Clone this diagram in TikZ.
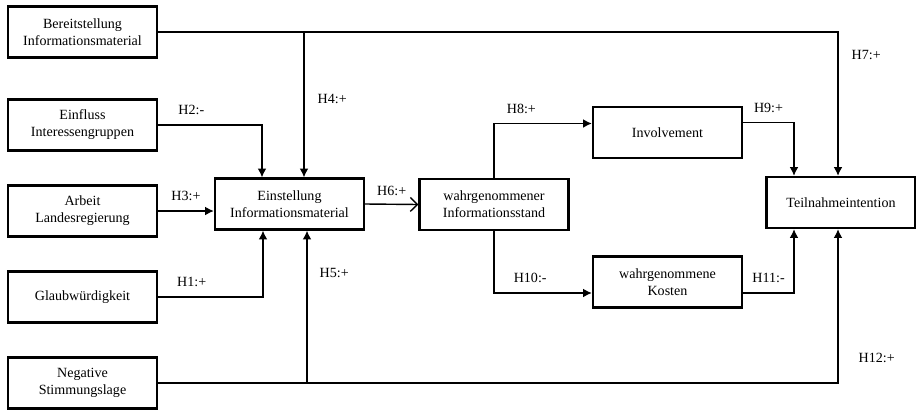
\documentclass[tikz,border=0pt]{standalone}
\usepackage{fontspec}
\setmainfont{Liberation Serif}
\usepackage{tikz}
\usetikzlibrary{arrows.meta}
\tikzstyle{block} = [rectangle, draw, line width=1.3pt, align=center, minimum width=2.98cm, minimum height=1.02cm, inner sep=1pt, font=\fontsize{8}{9.7}\selectfont]
\tikzstyle{line} = [draw, -{Latex[length=5pt,width=5pt]}, line width=0.8pt]
\tikzstyle{hyp} = [font=\fontsize{8}{9.7}\selectfont, inner sep=2pt]

\begin{document}
\begin{tikzpicture}[node distance=1.72cm]
    \useasboundingbox (0,0) rectangle (18.32,-8.22);
    % Nodes
    \node [block] at (1.65,-2.50) (einfluss) {Einfluss\\Interessengruppen};
    \node [block, above of=einfluss, node distance=1.86cm] (bereit) {Bereitstellung\\Informationsmaterial};
    \node [block, below of=einfluss] (arbeit) {Arbeit\\Landesregierung};
    \node [block, below of=arbeit] (glaub) {Glaubwürdigkeit};
    \node [block, below of=glaub] (negativ) {Negative\\Stimmungslage};
    \node [block] at (5.79,-4.08) (einstellung) {Einstellung\\Informationsmaterial};
    \node [block] at (9.88,-4.09) (wahrg) {wahrgenommener\\Informationsstand};
    \node [block] at (13.35,-2.65) (involvement) {Involvement};
    \node [block] at (13.35,-5.64) (kosten) {wahrgenommene\\Kosten};
    \node [block] at (16.82,-4.05) (teilnahme) {Teilnahmeintention};

    % arrows
    \draw [line] (bereit.east) -| node[hyp, pos=0.58, right, xshift=0.19cm] {H7:+} ([xshift=-0.06cm]teilnahme.north);
    \draw [line] ([xshift=0.29cm]einstellung.north |- bereit.east) -- node[hyp, pos=0.46, right, xshift=0.19cm] {H4:+} ([xshift=0.29cm]einstellung.north);
    \draw [line] (einfluss.east) -| node[hyp, pos=0.16, above, yshift=0.12cm] {H2:-} ([xshift=-0.55cm]einstellung.north);
    \draw [line] (arbeit.east) -- node[hyp, above, yshift=0.12cm] {H3:+} (arbeit.east -| einstellung.west);
    \draw [line] (glaub.east) -| node[hyp, pos=0.16, above, yshift=0.12cm] {H1:+} ([xshift=-0.53cm]einstellung.south);
    \draw [line] (negativ.east) -| node[hyp, pos=0.58, right, xshift=0.33cm] {H12:+} ([xshift=-0.06cm]teilnahme.south);
    \draw [line] ([xshift=0.35cm]einstellung.south |- negativ.east) -- node[hyp, pos=0.72, right, xshift=0.17cm] {H5:+} ([xshift=0.35cm]einstellung.south);
    \draw [-{Straight Barb[length=4pt,width=8pt]}, line width=0.8pt] (einstellung.east) -- node[hyp, above, yshift=0.08cm] {H6:+} (wahrg.west);
    \draw [line] (wahrg.north) |- node[hyp, pos=0.64, above, yshift=0.12cm] {H8:+} ([yshift=0.18cm]involvement.west);
    \draw [line] (wahrg.south) |- node[hyp, pos=0.685, above, yshift=0.12cm] {H10:-} ([yshift=-0.22cm]kosten.west);
    \draw [line] ([yshift=0.2cm]involvement.east) -| node[hyp, pos=0.25, above, yshift=0.12cm] {H9:+} ([xshift=-0.94cm]teilnahme.north);
    \draw [line] ([yshift=-0.22cm]kosten.east) -| node[hyp, pos=0.25, above, yshift=0.12cm] {H11:-} ([xshift=-0.94cm]teilnahme.south);

\end{tikzpicture}
\end{document}
